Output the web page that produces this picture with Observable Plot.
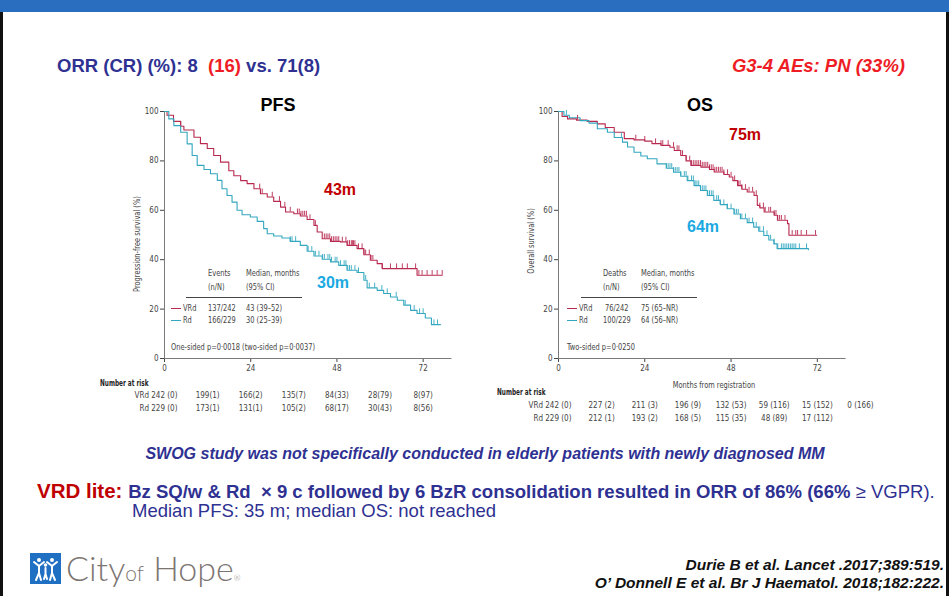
<!DOCTYPE html>
<html><head><meta charset="utf-8">
<script src="https://cdn.jsdelivr.net/npm/d3@7"></script>
<script src="https://cdn.jsdelivr.net/npm/@observablehq/plot@0.6"></script>
<style>
body{margin:0;background:#fff;}
#page{position:relative;width:949px;height:596px;overflow:hidden;background:#fff;font-family:"Liberation Sans",Arial,sans-serif;}
.abs{position:absolute;white-space:nowrap;line-height:1;}
.sm{font-family:"Liberation Sans Narrow","DejaVu Sans Condensed",sans-serif;font-size:8.5px;color:#444;}
</style></head>
<body><div id="page"></div>
<script>
// ---------- data ----------
const pfsVRdMonths = [0,0.7,2.5,4.5,5.4,8.2,10,11.9,13.7,15.6,17.9,19.3,21.2,23,24.9,26.7,28.6,30.4,32.3,33.7,36,37.8,39.7,41.6,42.5,43.9,46.2,49,50.8,53.6,55.5,57.3,59.2,60.6,70.3,77.3];
const pfsVRdSurv   = [100,98.5,96,94,92.5,89.6,87,85,82.2,79.5,76,74,72,70.8,68.7,66.7,65.4,63.6,61.3,59.3,58.6,57.7,56.3,53.9,51.2,48.5,47.4,47.2,45.8,44.5,42,39.8,38.4,36.4,33.7,33.7];
const pfsRdMonths  = [0,1.2,2.6,4.5,6.3,7.7,9.1,11,12.8,14.7,16,17.4,18.8,20.2,21.6,23.9,25.8,27.6,28.6,30.4,32.7,35,37.8,39.7,41.6,43.9,46.2,48.5,50.8,53.6,55.5,56.4,59.2,61,62.9,64.8,66.6,68.5,70.3,72.6,74.3,76.8];
const pfsRdSurv    = [100,97,94.3,91.6,86.9,82.2,78.2,76.5,74.8,72.1,68.7,66,63.3,60,58.2,57.3,55.5,52.6,50.5,49.6,48.8,47.4,45.8,43.4,41.5,40.2,39.1,37.7,35.7,34.8,31.7,28.6,27.6,26.3,24.9,23.6,21.6,19.5,18.2,16.4,13.7,13.7];
const osVRdMonths  = [0,1,2.5,5,8,10.8,13,15.5,18.3,21,24,26,28.5,31,32.2,34,35.5,36.8,39.6,42,43.3,46,47.5,48.5,49.8,51,52.5,54.4,55.3,56,57.2,60,60.9,63.7,64.1,71.8];
const osVRdSurv    = [100,98,97,96.5,96,95,93.5,91.6,89,88.5,88,87,86.3,85.5,84.2,82.2,80,78.2,77.5,76.5,75.5,74.5,73.5,72,70,68.5,67.4,66,62,61,59.3,58,56,54.6,49.9,49.9];
const osRdMonths   = [0,1.5,3,6,8.5,10.8,13.6,15.5,17.8,19.2,21,22.9,24.7,27.4,30,32,34,35.8,37.7,39.5,41.4,43.2,45,46.9,48.8,50.6,52.5,54.3,55.7,57.1,58.5,59.9,60.8,69.5];
const osRdSurv     = [100,98.5,97.5,96.3,95.3,93,91.6,89.5,87.6,85.6,83.5,82,80.9,78.8,77,75.4,73.8,72,70,68,66,64,62.3,60.6,58.5,56.6,55,53.2,51.5,49.8,48,46.4,44.5,44];

const pfsVRdCensor = [4.5,26.5,27.2,30,32,33.5,35,37,37.5,38,38.5,39,39.5,40.5,42,44.5,45,45.5,46,46.5,47,47.5,48,48.5,49.5,50.5,51,51.5,52,52.3,52.6,53,54,55,55.5,56,57,57.5,58,60.6,62.9,64.6,66.2,67.6,69.9,70.8,71.7,73.1,74.5,75.9,77.3];
const pfsRdCensor  = [35,35.5,36.5,40,41,42,43,44,44.5,45.5,46,46.5,47.5,48,49,50,50.5,51,51.5,52,53,54,56,57,58.5,60.5,62,64.5,67,69.5,71,72,75,76];
const osVRdCensor  = [5.3,21.5,24,27,28.5,29,30.5,32,33,33.5,34.5,35.5,36.5,37,37.5,38,38.5,39,39.5,40,40.5,41,41.5,42,42.5,43,43.5,44,44.5,45,45.5,46,47,48,49,50,50.5,51,52,53,54,55,56,57,57.5,58.5,59,60,60.5,61,61.5,62,63,65,66,66.5,67.5,69,71.5];
const osRdCensor   = [2.2,17.5,30,30.5,31,31.5,32,32.5,33,33.5,34,35,35.5,36,37,37.5,38,38.5,39,39.5,40,40.5,41,41.5,42,42.5,43,44,44.5,45,46,47,48,49,49.5,50,51,52,53,54,55,56,57,58,59,60,61,62,62.5,63,63.5,64,64.5,65,65.5,66,67,69];

const xTicks = [0,24,48,72];
const yTicks = [0,20,40,60,80,100];
const pfsRiskMonths = [0,12,24,36,48,60,72];
const pfsRiskVRd = ["242 (0)","199(1)","166(2)","135(7)","84(33)","28(79)","8(97)"];
const pfsRiskRd  = ["229 (0)","173(1)","131(1)","105(2)","68(17)","30(43)","8(56)"];
const osRiskMonths = [0,12,24,36,48,60,72,84];
const osRiskVRd = ["242 (0)","227 (2)","211 (3)","196 (9)","132 (53)","59 (116)","15 (152)","0 (166)"];
const osRiskRd  = ["229 (0)","212 (1)","193 (2)","168 (5)","115 (35)","48 (89)","17 (112)"];

const RED = "#b8284f", TEAL = "#32a7bf";
const CHART_FONT = '"Liberation Sans Narrow","DejaVu Sans Condensed",sans-serif';

const page = document.getElementById("page");
function addText(html, x, y, style, anchor="start", cls="abs", sx=1, rot=false) {
  const d = document.createElement("div");
  d.className = cls;
  d.innerHTML = html;
  d.style.cssText += style;
  d.style.left = x + "px"; d.style.top = y + "px";
  const tx = anchor === "middle" ? "-50%" : anchor === "end" ? "-100%" : "0";
  d.style.transformOrigin = anchor === "middle" ? "50% 50%" : anchor === "end" ? "100% 50%" : "0 50%";
  d.style.transform = `translate(${tx},-50%)` + (rot ? " rotate(-90deg)" : "") + (sx !== 1 ? ` scaleX(${sx})` : "");
  page.appendChild(d);
  return d;
}
const SX = 0.87;
const sm = (html, x, y, anchor="start", style="") => addText(html, x, y, style, anchor, "abs sm", SX);
function addBox(x, y, w, h, bg) {
  const d = document.createElement("div");
  d.style.cssText = `position:absolute;left:${x}px;top:${y}px;width:${w}px;height:${h}px;background:${bg};`;
  page.appendChild(d);
}

const survAt = (ms, ss, t) => { let s = ss[0]; for (let i = 0; i < ms.length; i++) if (ms[i] <= t) s = ss[i]; return s; };
const series = (ms, ss) => ms.map((m, i) => ({m, s: ss[i]}));
const censorPts = (cs, ms, ss) => cs.map(t => ({m: t, s: survAt(ms, ss, t)}));

function km({left, width, marginLeft, marginRight, vrd, rd, cV, cR, riskMonths, riskV, riskR, dyV, dyR}) {
  const svg = Plot.plot({
    width, height: 330, marginLeft, marginRight, marginTop: 16, marginBottom: 67,
    style: {fontFamily: CHART_FONT, fontSize: "8px", color: "#444", background: "transparent", overflow: "visible"},
    x: {domain: [0, 80], ticks: xTicks, tickSize: 4, tickPadding: 3, label: null},
    y: {domain: [0, 100], ticks: yTicks, tickSize: 4, tickPadding: 2, label: null},
    marks: [
      Plot.ruleY([0], {stroke: "#7a7a7a"}),
      Plot.ruleX([0], {stroke: "#7a7a7a"}),
      Plot.line(vrd, {x: "m", y: "s", curve: "step-after", stroke: RED, strokeWidth: 1.1}),
      Plot.line(rd, {x: "m", y: "s", curve: "step-after", stroke: TEAL, strokeWidth: 1.1}),
      Plot.ruleX(cV, {x: "m", y1: "s", y2: d => d.s + 1.9, stroke: RED, strokeWidth: 0.9}),
      Plot.ruleX(cR, {x: "m", y1: "s", y2: d => d.s + 1.9, stroke: TEAL, strokeWidth: 0.9}),
      Plot.text(riskMonths.slice(0, 1), {x: d => d, text: () => "VRd " + riskV[0], frameAnchor: "bottom", dy: dyV, textAnchor: "end", dx: 13}),
      Plot.text(riskMonths.slice(0, 1), {x: d => d, text: () => "Rd " + riskR[0], frameAnchor: "bottom", dy: dyR, textAnchor: "end", dx: 13}),
      Plot.text(riskMonths.slice(1, riskV.length), {x: d => d, text: (d, i) => riskV[i + 1], frameAnchor: "bottom", dy: dyV}),
      Plot.text(riskMonths.slice(1, riskR.length), {x: d => d, text: (d, i) => riskR[i + 1], frameAnchor: "bottom", dy: dyR})
    ]
  });
  svg.style.position = "absolute";
  svg.style.left = left + "px";
  svg.style.top = "95px";
  page.appendChild(svg);
}

// ---------- frame ----------
addBox(0, 0, 949, 12, "#2a6ebf");
addBox(0, 12, 3, 584, "#111");
addBox(946, 12, 3, 584, "#111");

// ---------- header ----------
addText('ORR (CR) (%): 8&nbsp; <span style="color:#ee1c25">(16)</span> vs. 71(8)', 57, 66, "font-size:18.5px;font-weight:bold;color:#2e3192;");
addText('G3-4 AEs: PN (33%)', 905, 66, "font-size:18.5px;font-weight:bold;font-style:italic;color:#ee1c25;", "end");

// ---------- charts ----------
km({left: 95, width: 370, marginLeft: 69, marginRight: 13.6,
    vrd: series(pfsVRdMonths, pfsVRdSurv), rd: series(pfsRdMonths, pfsRdSurv),
    cV: censorPts(pfsVRdCensor, pfsVRdMonths, pfsVRdSurv), cR: censorPts(pfsRdCensor, pfsRdMonths, pfsRdSurv),
    riskMonths: pfsRiskMonths, riskV: pfsRiskVRd, riskR: pfsRiskRd, dyV: 39, dyR: 52});
km({left: 485, width: 400, marginLeft: 73, marginRight: 39.4,
    vrd: series(osVRdMonths, osVRdSurv), rd: series(osRdMonths, osRdSurv),
    cV: censorPts(osVRdCensor, osVRdMonths, osVRdSurv), cR: censorPts(osRdCensor, osRdMonths, osRdSurv),
    riskMonths: osRiskMonths, riskV: osRiskVRd, riskR: osRiskRd, dyV: 49, dyR: 62});

// titles & medians
addText("PFS", 278, 105, "font-size:18px;font-weight:bold;color:#000;", "middle");
addText("OS", 700, 105, "font-size:18px;font-weight:bold;color:#000;", "middle");
addText("43m", 324, 190, "font-size:16px;font-weight:bold;color:#c00000;");
addText("30m", 317, 283, "font-size:16px;font-weight:bold;color:#1aa9e2;");
addText("75m", 729, 135, "font-size:16px;font-weight:bold;color:#c00000;");
addText("64m", 687, 227, "font-size:16px;font-weight:bold;color:#1aa9e2;");

// y axis labels
addText("Progression-free survival (%)", 137, 244, "", "middle", "abs sm", SX, true);
addText("Overall survival (%)", 531, 241, "", "middle", "abs sm", SX, true);

// legends
function legend(x0, head1, v1, v2, med1, med2, pText, colX, medX) {
  sm(head1, colX, 273);
  sm("(n/N)", colX, 287);
  sm("Median, months", medX, 273);
  sm("(95% CI)", medX, 287);
  addBox(colX - 22, 297, medX + 56 - (colX - 22), 1, "#444");
  addBox(x0, 308, 10, 1.2, RED);
  addBox(x0, 320, 10, 1.2, TEAL);
  sm("VRd", x0 + 12, 308);
  sm("Rd", x0 + 12, 320);
  sm(v1, colX, 308);
  sm(v2, colX, 320);
  sm(med1, medX, 308);
  sm(med2, medX, 320);
  sm(pText, x0, 347);
}
legend(171, "Events", "137/242", "166/229", "43 (39–52)", "30 (25–39)", "One-sided p=0·0018 (two-sided p=0·0037)", 208, 246);
legend(567, "Deaths", "&nbsp;76/242", "100/229", "75 (65–NR)", "64 (56–NR)", "Two-sided p=0·0250", 603, 641);

addText("Number at risk", 100, 384, "font-weight:bold;color:#222;font-size:8px;", "start", "abs sm", 0.8);
addText("Number at risk", 497, 393, "font-weight:bold;color:#222;font-size:8px;", "start", "abs sm", 0.8);
sm("Months from registration", 714, 385, "middle");

// ---------- bottom text ----------
addText("SWOG study was not specifically conducted in elderly patients with newly diagnosed MM", 485, 454, "font-size:16px;font-weight:bold;font-style:italic;color:#2e3192;", "middle");
addText('<b style="color:#c00000;font-size:20.5px">VRD lite: </b><b>Bz SQ/w &amp; Rd &nbsp;× 9 c followed by 6 BzR consolidation resulted in ORR of 86% (66%</b> ≥ VGPR).', 37, 491, "font-size:18.55px;color:#2e3192;");
addText("Median PFS: 35 m; median OS: not reached", 132, 511, "font-size:18.5px;color:#2e3192;");

addText("Durie B et al. Lancet .2017;389:519.", 944, 565, "font-size:15.5px;font-weight:bold;font-style:italic;color:#111;", "end");
addText("O’ Donnell E et al. Br J Haematol. 2018;182:222.", 944, 583, "font-size:15.5px;font-weight:bold;font-style:italic;color:#111;", "end");

// ---------- logo ----------
const logo = document.createElement("div");
logo.className = "abs";
logo.style.cssText = "left:30px;top:553px;";
logo.innerHTML = `<svg width="31" height="31" viewBox="0 0 31 31"><rect width="31" height="31" fill="#1f6fc2"/>
<g stroke="#fff" stroke-width="2" fill="none" stroke-linecap="round">
<circle cx="9" cy="7" r="2" fill="#fff" stroke="none"/><circle cx="22" cy="7" r="2" fill="#fff" stroke="none"/><circle cx="15.5" cy="12" r="1.8" fill="#fff" stroke="none"/>
<path d="M4 9 L9 13 L14 9 M9 13 L9 20 L6 27 M9 20 L11 27"/>
<path d="M17 9 L22 13 L27 9 M22 13 L22 20 L20 27 M22 20 L25 27"/>
<path d="M15.5 15 L15.5 21 L14 26 M15.5 21 L17 26"/></g></svg>`;
page.appendChild(logo);
addText('City<span style="font-size:21px">of</span> Hope<span style="font-size:8px">®</span>', 66, 568, "font-family:Lato,'Open Sans',sans-serif;font-weight:300;font-size:34px;color:#7d7572;");
</script>
</body></html>
